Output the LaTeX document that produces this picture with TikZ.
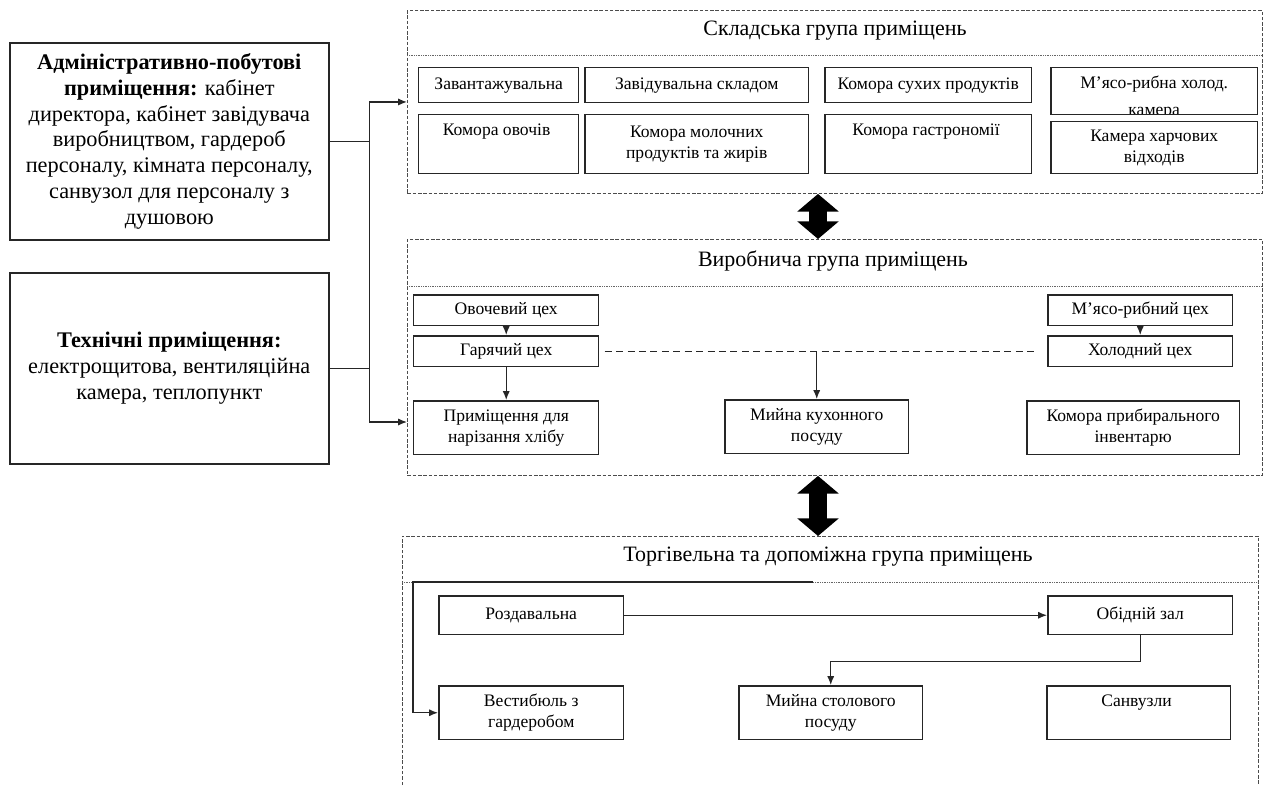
\documentclass[tikz,border=0pt]{standalone}
\usepackage{fontspec}
\setmainfont{Liberation Serif}
\usetikzlibrary{arrows, arrows.meta, positioning}
\tikzset{
    room/.style = {
        draw = black!85, 
        line width = 0.85pt, 
        align = center, 
        inner sep = 2pt, 
        anchor = north west, 
        font = \fontsize{10}{12}\selectfont
    },
    bigroom/.style = {
        draw = black!85, 
        line width = 0.95pt, 
        align = center, 
        anchor = north west, 
        minimum width = 6.38cm, 
        font = \fontsize{12.7}{14.7}\selectfont
    },
    group/.style = {
        draw = black!70, 
        line width = 0.55pt, 
        dash pattern = on 2pt off 1pt
    },
    sep/.style = {
        black!60, 
        line width = 0.45pt, 
        dash pattern = on 0.5pt off 0.5pt
    },
    grouptitle/.style = {font = \fontsize{12.5}{15}\selectfont},
    arr/.style = {-{Latex[length = 5pt, width = 4pt]}, black!85, line width = 0.7pt},
    link/.style = {black!85, line width = 0.7pt, dash pattern = on 4pt off 2.5pt},
    bigarr/.style = {
        {Triangle[width = 23pt, length = 10pt]}-{Triangle[width = 23pt, length = 10pt]}, 
        line width = 10pt
    },
    toptext/.style = {label = {
        [anchor = north, yshift = -2pt, align = center, font = \fontsize{10}{12}\selectfont]
        north:#1
    }}
}

\begin{document}
\begin{tikzpicture}[x = 0.02cm, y = -0.02cm]
    \useasboundingbox (0, 0) rectangle (1267, 785);

    % Left boxes
    \node [bigroom, minimum height = 3.94cm] (admin) at (9, 42) {\textbf{Адміністративно-побутові}\\\textbf{приміщення:} кабінет\\директора, кабінет завідувача\\виробництвом, гардероб\\персоналу, кімната персоналу,\\санвузол для персоналу з\\душовою};
    \node [bigroom, minimum height = 3.82cm] (tech) at (9, 272) {\textbf{Технічні приміщення:}\\електрощитова, вентиляційна\\камера, теплопункт};

    % Storage group
    \node [group, anchor = north west, minimum width = 17.1cm, minimum height = 3.66cm] (sklad) at (407, 10) {};
    \draw [sep] (407, 55) -- (1262, 55);
    \node [grouptitle] (skladtitle) at (835, 31) {Складська група приміщень};

    \node [room, minimum width = 3.2cm, minimum height = 0.7cm] (zavant) at (418, 67) {Завантажувальна};
    \node [room, minimum width = 4.48cm, minimum height = 0.7cm] (zavsklad) at (584, 67) {Завідувальна складом};
    \node [room, minimum width = 4.14cm, minimum height = 0.7cm] (suhi) at (824, 67) {Комора сухих продуктів};
    \node [room, minimum width = 4.14cm, minimum height = 0.94cm, 
        path picture = {
            \node [draw = none, anchor = north, align = center, font = \fontsize{10}{15}\selectfont] 
                at ([yshift = -2.5pt] path picture bounding box.north) {М’ясо-рибна холод.\\камера};
        }] (holkam) at (1050, 67) {};
    \node [room, minimum width = 3.2cm, minimum height = 1.18cm, toptext = {Комора овочів}] (ovochi) at (418, 114) {};
    \node [room, minimum width = 4.48cm, minimum height = 1.18cm] (moloko) at (584, 114) {Комора молочних\\продуктів та жирів};
    \node [room, minimum width = 4.14cm, minimum height = 1.18cm, toptext = {Комора гастрономії}] (gastro) at (824, 114) {};
    \node [room, minimum width = 4.14cm, minimum height = 1.04cm] (vidhody) at (1050, 121) {Камера харчових\\відходів};

    % Production group
    \node [group, anchor = north west, minimum width = 17.1cm, minimum height = 4.72cm] (vyrob) at (407, 239) {};
    \draw [sep] (407, 286) -- (1262, 286);
    \node [grouptitle] (vyrobtitle) at (833, 261) {Виробнича група приміщень};

    \node [room, minimum width = 3.7cm, minimum height = 0.62cm] (ovoch) at (413, 294) {Овочевий цех};
    \node [room, minimum width = 3.7cm, minimum height = 0.62cm] (gar) at (413, 335) {Гарячий цех};
    \node [room, minimum width = 3.7cm, minimum height = 1.08cm] (hlib) at (413, 400) {Приміщення для\\нарізання хлібу};
    \node [room, minimum width = 3.68cm, minimum height = 1.08cm] (myika) at (724, 399) {Мийна кухонного\\посуду};
    \node [room, minimum width = 3.7cm, minimum height = 0.62cm] (myaso) at (1047, 294) {М’ясо-рибний цех};
    \node [room, minimum width = 3.7cm, minimum height = 0.62cm] (hol) at (1047, 335) {Холодний цех};
    \node [room, minimum width = 4.26cm, minimum height = 1.08cm] (inv) at (1026, 400) {Комора прибирального\\інвентарю};

    \draw [arr] (ovoch) -- (gar);
    \draw [arr] (gar) -- (hlib);
    \draw [arr] (myaso) -- (hol);
    \draw [link, shorten < = 3pt, shorten > = 7pt] (gar) -- (hol);
    \draw [arr] (myika.north |- gar.east) -- (myika);

    % Trade group
    \draw [group] (402, 785) -- (402, 536) -- (1258, 536) -- (1258, 785);
    \draw [sep] (402, 582) -- (1258, 582);
    \node [grouptitle] (torgtitle) at (828, 557) {Торгівельна та допоміжна група приміщень};

    \node [room, minimum width = 3.7cm, minimum height = 0.78cm] (rozd) at (438, 595) {Роздавальна};
    \node [room, minimum width = 3.7cm, minimum height = 0.78cm] (zal) at (1047, 595) {Обідній зал};
    \node [room, minimum width = 3.7cm, minimum height = 1.08cm] (vest) at (438, 685) {Вестибюль з\\гардеробом};
    \node [room, minimum width = 3.68cm, minimum height = 1.08cm] (stol) at (738, 685) {Мийна столового\\посуду};
    \node [room, minimum width = 3.68cm, minimum height = 1.08cm, toptext = {Санвузли}] (sanv) at (1046, 685) {};

    \draw [arr] (rozd) -- (zal);
    \draw [arr] (zal.south) -- ++(0, 26) -| (stol.north);
    \coordinate (torgin) at (813, 582);
    \draw [arr] (torgin) -- (413, 582) |- (vest.west);

    % Left connectors
    \coordinate (vyrobin) at (407, 422);
    \draw [arr] (admin.east) -- ++(40, 0) coordinate (bus1) |- (sklad.west);
    \draw [arr] (tech.east) -- ++(40, 0) coordinate (bus2) |- (vyrobin);
    \draw [arr, -] (bus1) -- (bus2);

    % Big arrows
    \coordinate (axis) at (818, 0);
    \coordinate (torgtop) at (818, 536);
    \draw [bigarr] (sklad.south -| axis) -- (vyrob.north -| axis);
    \draw [bigarr] (vyrob.south -| axis) -- (torgtop);

\end{tikzpicture}
\end{document}
